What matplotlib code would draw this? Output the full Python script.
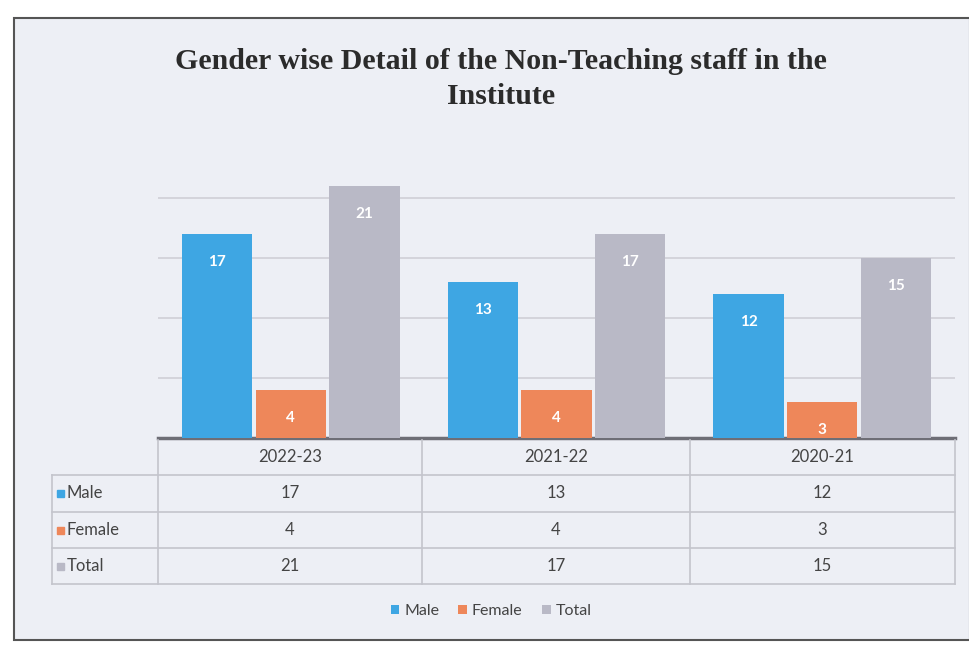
import numpy as np
import matplotlib
matplotlib.use('Agg')
import matplotlib.pyplot as plt
from matplotlib.patches import Rectangle
from matplotlib.lines import Line2D

years = ['2022-23', '2021-22', '2020-21']
series = ['Male', 'Female', 'Total']
male = [17, 13, 12]
female = [4, 4, 3]
total = [21, 17, 15]
values = [male, female, total]
colors = ['#3EA6E3', '#EE875A', '#B9B9C6']

W, H = 970, 646
fig = plt.figure(figsize=(W / 100, H / 100), dpi=100)
fig.patch.set_facecolor('white')


def fx(x):
    return x / W


def fy(y):
    return 1 - y / H


# chart area background with frame
fig.add_artist(Rectangle((fx(14), fy(640)), fx(970 - 14), (640 - 18) / H,
                         transform=fig.transFigure, facecolor='#EDEFF5',
                         edgecolor='#555555', lw=1.5, zorder=-5))

fig.text(fx(501), fy(79), 'Gender wise Detail of the Non-Teaching staff in the\nInstitute',
         ha='center', va='center', fontsize=21.5, fontweight='bold',
         family='Liberation Serif', color='#2B2B2B', linespacing=1.4)

# bar plot
left, right, bottom = 158, 955, 438
ymax = 22
top = bottom - 12 * ymax
ax = fig.add_axes([fx(left), fy(bottom), fx(right - left), (bottom - top) / H])
ax.set_facecolor('none')
x = np.arange(len(years))
bw = 0.265
for i, (name, vals, c) in enumerate(zip(series, values, colors)):
    bars = ax.bar(x + (i - 1) * (bw + 0.012), vals, bw, color=c, label=name, zorder=3)
    ax.bar_label(bars, padding=-25, color='white', fontsize=11, fontweight='bold',
                 family='Lato')
ax.set_xlim(-0.5, len(years) - 0.5)
ax.set_ylim(0, ymax)
ax.set_yticks([5, 10, 15, 20])
ax.yaxis.grid(True, color='#CFCFD6', lw=1.2)
ax.set_axisbelow(True)
ax.tick_params(left=False, bottom=False, labelleft=False, labelbottom=False)
for s in ['top', 'right', 'left']:
    ax.spines[s].set_visible(False)
ax.spines['bottom'].set_color('#6E6E76')
ax.spines['bottom'].set_linewidth(2.5)

# data table under the plot
line_c = '#C3C4CC'
col_edges = [158, 422, 690, 955]
row_edges = [440, 475, 512, 548, 584]
lab_x0 = 52
for y in row_edges[1:]:
    fig.add_artist(Line2D([fx(lab_x0), fx(right)], [fy(y), fy(y)], color=line_c, lw=1.2))
for xe in col_edges:
    fig.add_artist(Line2D([fx(xe), fx(xe)], [fy(row_edges[0]), fy(row_edges[-1])],
                          color=line_c, lw=1.2))
fig.add_artist(Line2D([fx(lab_x0), fx(lab_x0)], [fy(row_edges[1]), fy(row_edges[-1])],
                      color=line_c, lw=1.2))

txt_c = '#444444'
for j, yr in enumerate(years):
    cx = (col_edges[j] + col_edges[j + 1]) / 2
    fig.text(fx(cx), fy((row_edges[0] + row_edges[1]) / 2), yr, ha='center', va='center',
             fontsize=12, family='Lato', color=txt_c)
for i, (name, vals, c) in enumerate(zip(series, values, colors)):
    cy = (row_edges[i + 1] + row_edges[i + 2]) / 2
    fig.add_artist(Rectangle((fx(57), fy(cy + 3.5)), fx(7), 7 / H,
                             transform=fig.transFigure, color=c))
    fig.text(fx(67), fy(cy), name, ha='left', va='center', fontsize=12,
             family='Lato', color=txt_c)
    for j, v in enumerate(vals):
        cx = (col_edges[j] + col_edges[j + 1]) / 2
        fig.text(fx(cx), fy(cy), str(v), ha='center', va='center', fontsize=12,
                 family='Lato', color=txt_c)

handles, labels = ax.get_legend_handles_labels()
fig.legend(handles, labels, loc='center', bbox_to_anchor=(fx(491), fy(611)), ncol=3,
           frameon=False, handlelength=0.55, handleheight=0.55, handletextpad=0.3,
           columnspacing=1.2, prop={'family': 'Lato', 'size': 11.5}, labelcolor=txt_c)

fig.savefig('out.png', dpi=100)
